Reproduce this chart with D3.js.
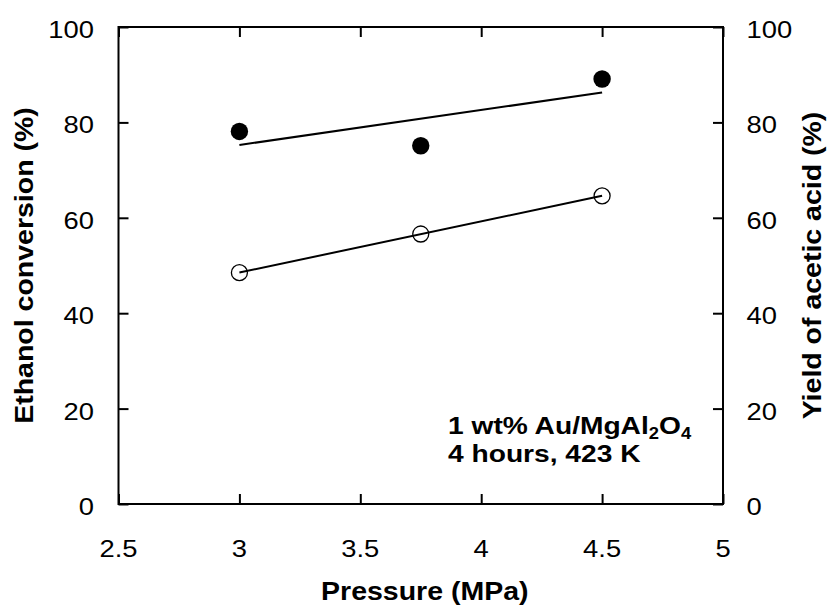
<!DOCTYPE html>
<html>
<head>
<meta charset="utf-8">
<script src="https://cdn.jsdelivr.net/npm/d3@7"></script>
<style>
  html, body { margin: 0; padding: 0; background: #fff; }
  svg { display: block; font-family: "Liberation Sans", Arial, sans-serif; }
</style>
</head>
<body>
<script>
// ---- data ----
const pressure = [3, 3.75, 4.5];
const ethanolConversion = [78.1, 75.1, 89.1];
const aceticAcidYield = [48.5, 56.6, 64.6];
const xTicks = [2.5, 3, 3.5, 4, 4.5, 5];
const xTickLabels = ["2.5", "3", "3.5", "4", "4.5", "5"];
const yTicks = [0, 20, 40, 60, 80, 100];
const yTickLabels = ["0", "20", "40", "60", "80", "100"];

(function () {
const W = 828, H = 608;
const pL = 118.5, pR = 723, pT = 27, pB = 504;
const K = 1.14; // horizontal text stretch of the reference

const svg = d3.select("body").append("svg").attr("width", W).attr("height", H);

const x = d3.scaleLinear().domain([2.5, 5]).range([pL, pR]);
const yL = d3.scaleLinear().domain([0, 100]).range([pB, pT]);
const yR = d3.scaleLinear().domain([0, 100]).range([pB, pT]);

// axes with inward ticks (no domain lines; frame drawn separately)
function styleAxis(g) {
  g.select(".domain").remove();
  g.selectAll(".tick line").attr("stroke", "#000").attr("stroke-width", 2);
  g.selectAll(".tick text").remove();
}
svg.append("g").attr("transform", `translate(0,${pB})`)
  .call(d3.axisBottom(x).tickValues(xTicks).tickSize(-10)).call(styleAxis);
svg.append("g").attr("transform", `translate(0,${pT})`)
  .call(d3.axisTop(x).tickValues(xTicks).tickSize(-10)).call(styleAxis);
svg.append("g").attr("transform", `translate(${pL},0)`)
  .call(d3.axisLeft(yL).tickValues(yTicks).tickSize(-10)).call(styleAxis);
svg.append("g").attr("transform", `translate(${pR},0)`)
  .call(d3.axisRight(yR).tickValues(yTicks).tickSize(-10)).call(styleAxis);

// frame
svg.append("rect").attr("x", pL).attr("y", pT)
  .attr("width", pR - pL).attr("height", pB - pT)
  .attr("fill", "none").attr("stroke", "#000").attr("stroke-width", 2);

// text helper
function label(px, py, txt, anchor, size, weight, rot) {
  return svg.append("text")
    .attr("transform", `translate(${px},${py})` + (rot ? ` rotate(${rot})` : "") + ` scale(${K},1)`)
    .attr("text-anchor", anchor)
    .attr("font-size", size)
    .attr("font-weight", weight || "normal")
    .attr("fill", "#000")
    .text(txt);
}
xTicks.forEach((v, i) => label(x(v), 557, xTickLabels[i], "middle", 24));
yTicks.forEach((v, i) => label(94, yL(v) + 11, yTickLabels[i], "end", 24));
yTicks.forEach((v, i) => label(746.5, yR(v) + 11, yTickLabels[i], "start", 24));

// axis titles
label((pL + pR) / 2 + 4, 600, "Pressure (MPa)", "middle", 25, "bold");
label(33, (pT + pB) / 2, "Ethanol conversion (%)", "middle", 25, "bold", -90);
label(821, (pT + pB) / 2, "Yield of acetic acid (%)", "middle", 25, "bold", -90);

// trend lines (least squares fit of each series)
function fit(xs, ys) {
  const mx = d3.mean(xs), my = d3.mean(ys);
  const b = d3.sum(xs.map((v, i) => (v - mx) * (ys[i] - my))) / d3.sum(xs.map(v => (v - mx) ** 2));
  return v => my + b * (v - mx);
}
const xEnds = [d3.min(pressure), d3.max(pressure)];
const line = d3.line();
[[ethanolConversion, yL], [aceticAcidYield, yR]].forEach(([ys, sc]) => {
  const f = fit(pressure, ys);
  svg.append("path")
    .attr("d", line(xEnds.map(v => [x(v), sc(f(v))])))
    .attr("stroke", "#000").attr("stroke-width", 2).attr("fill", "none");
});

// markers
svg.append("g").selectAll("circle").data(pressure).join("circle")
  .attr("cx", (d) => x(d)).attr("cy", (d, i) => yL(ethanolConversion[i]))
  .attr("r", 8.7).attr("fill", "#000");
svg.append("g").selectAll("circle").data(pressure).join("circle")
  .attr("cx", (d) => x(d)).attr("cy", (d, i) => yR(aceticAcidYield[i]))
  .attr("r", 8).attr("fill", "none").attr("stroke", "#000").attr("stroke-width", 1.3);

// annotation
const ann = svg.append("text")
  .attr("transform", `translate(448,434) scale(1.15,1)`)
  .attr("font-size", 24.5).attr("font-weight", "bold").attr("fill", "#000");
ann.append("tspan").text("1 wt% Au/MgAl");
ann.append("tspan").attr("font-size", 16).attr("dy", 5).text("2");
ann.append("tspan").attr("dy", -5).text("O");
ann.append("tspan").attr("font-size", 16).attr("dy", 5).text("4");
svg.append("text")
  .attr("transform", `translate(448,461.5) scale(1.15,1)`)
  .attr("font-size", 24.5).attr("font-weight", "bold").attr("fill", "#000")
  .text("4 hours, 423 K");
})();
</script>
</body>
</html>
